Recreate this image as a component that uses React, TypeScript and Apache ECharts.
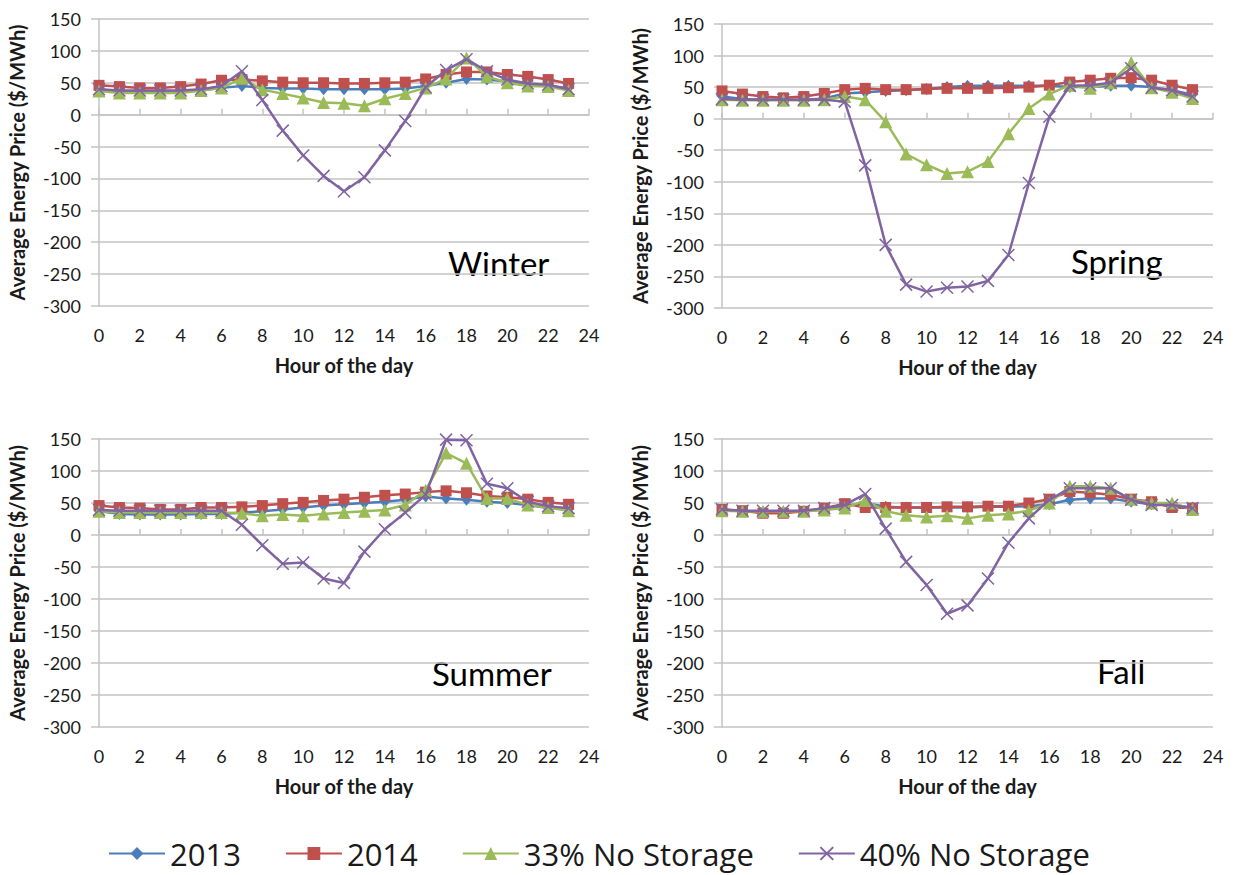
import React, { useEffect, useRef } from "react";
import * as echarts from "echarts";

// Hour of the day (x values)
const hours = [0, 1, 2, 3, 4, 5, 6, 7, 8, 9, 10, 11, 12, 13, 14, 15, 16, 17, 18, 19, 20, 21, 22, 23];

// Series names shown in the legend
const seriesNames = ["2013", "2014", "33% No Storage", "40% No Storage"];

// Average energy price ($/MWh) per season and scenario
const winter2013 = [40, 36, 35, 35, 36, 38, 42, 45, 42, 41, 41, 40, 40, 40, 40, 41, 45, 50, 56, 55, 52, 48, 45, 42];
const winter2014 = [46, 44, 42, 42, 44, 48, 54, 55, 53, 51, 50, 50, 49, 49, 50, 51, 56, 63, 67, 67, 63, 60, 55, 49];
const winter33 = [37, 34, 34, 34, 34, 38, 42, 57, 39, 33, 26, 19, 18, 14, 25, 33, 42, 56, 89, 60, 50, 45, 44, 38];
const winter40 = [40, 38, 38, 38, 38, 40, 45, 68, 23, -25, -64, -96, -120, -98, -56, -10, 43, 70, 87, 68, 55, 49, 47, 40];

const spring2013 = [35, 31, 30, 30, 30, 32, 40, 42, 44, 45, 47, 50, 52, 52, 52, 52, 52, 50, 50, 52, 52, 50, 45, 38];
const spring2014 = [44, 39, 35, 33, 35, 40, 46, 48, 46, 46, 47, 48, 48, 48, 49, 50, 53, 58, 61, 64, 65, 61, 53, 46];
const spring33 = [30, 29, 29, 29, 29, 30, 35, 30, -5, -56, -73, -87, -84, -68, -24, 16, 39, 53, 48, 57, 89, 49, 42, 32];
const spring40 = [31, 30, 30, 30, 30, 30, 27, -74, -200, -263, -274, -268, -266, -257, -216, -102, 3, 52, 53, 57, 80, 49, 45, 35];

const summer2013 = [37, 33, 32, 32, 32, 33, 33, 35, 37, 40, 43, 46, 48, 50, 52, 55, 60, 57, 55, 52, 50, 47, 42, 40];
const summer2014 = [46, 43, 42, 40, 40, 43, 43, 44, 46, 49, 51, 54, 56, 59, 62, 64, 67, 69, 66, 61, 59, 56, 51, 48];
const summer33 = [37, 35, 35, 35, 35, 35, 35, 34, 30, 32, 30, 33, 35, 37, 39, 47, 70, 128, 112, 57, 57, 47, 43, 38];
const summer40 = [39, 38, 38, 38, 38, 38, 38, 16, -16, -45, -43, -68, -75, -26, 9, 35, 63, 149, 148, 80, 73, 52, 45, 42];

const fall2013 = [40, 37, 36, 36, 37, 40, 45, 50, 44, 43, 43, 43, 43, 44, 44, 45, 48, 55, 57, 57, 52, 48, 47, 43];
const fall2014 = [40, 38, 34, 34, 37, 42, 49, 43, 43, 43, 43, 44, 44, 45, 45, 50, 56, 68, 66, 63, 56, 52, 43, 42];
const fall33 = [38, 37, 37, 37, 37, 39, 42, 54, 37, 31, 28, 30, 26, 31, 33, 38, 50, 76, 76, 73, 56, 50, 50, 40];
const fall40 = [40, 38, 38, 38, 38, 42, 47, 64, 10, -42, -78, -123, -110, -68, -12, 26, 55, 73, 73, 73, 55, 47, 47, 42];

// Axis ticks
const yMin = -300;
const yMax = 150;
const yStep = 50;
const xMin = 0;
const xMax = 24;
const xStep = 2;

const seasons = [
  { label: "Winter", data: [winter2013, winter2014, winter33, winter40] },
  { label: "Spring", data: [spring2013, spring2014, spring33, spring40] },
  { label: "Summer", data: [summer2013, summer2014, summer33, summer40] },
  { label: "Fall", data: [fall2013, fall2014, fall33, fall40] },
];

const FONT = "Lato";
const LEGEND_FONT = "Open Sans";
const GRID_COLOR = "#c3c3c3";
const TEXT_COLOR = "#1a1a1a";

const colors = ["#4a7ebb", "#c0504d", "#9bbb59", "#8064a2"];
const symbols = [
  "diamond",
  "rect",
  "triangle",
  "path://M0,0L10,10M10,0L0,10",
];
const symbolSizes: (number | number[])[] = [[10, 12], 11, 13, 12];

// Panel placement (pixels)
const panels = [
  { left: 99, top: 19, width: 490, height: 287, text: { x: 448, y: 266 } },
  { left: 722, top: 24, width: 491, height: 284, text: { x: 1071, y: 264 } },
  { left: 99, top: 439, width: 490, height: 288, text: { x: 432, y: 676 } },
  { left: 722, top: 439, width: 491, height: 288, text: { x: 1097, y: 674 } },
];

function buildOption() {
  const grid: any[] = [];
  const xAxis: any[] = [];
  const yAxis: any[] = [];
  const series: any[] = [];
  const graphic: any[] = [];

  panels.forEach((p, i) => {
    grid.push({ left: p.left, top: p.top, width: p.width, height: p.height, containLabel: false });

    // labelled axis along the bottom
    xAxis.push({
      type: "value",
      gridIndex: i,
      min: xMin,
      max: xMax,
      interval: xStep,
      position: "bottom",
      axisLine: { show: false, onZero: false },
      axisTick: { show: false },
      splitLine: { show: false },
      axisLabel: { fontFamily: FONT, fontSize: 18, color: TEXT_COLOR, margin: 20 },
      name: "Hour of the day",
      nameLocation: "middle",
      nameGap: 49,
      nameTextStyle: { fontFamily: FONT, fontSize: 20, fontWeight: "bold", color: TEXT_COLOR },
    });
    // axis line with tick marks crossing at zero
    xAxis.push({
      type: "value",
      gridIndex: i,
      min: xMin,
      max: xMax,
      interval: xStep,
      axisLine: { show: true, onZero: true, lineStyle: { color: GRID_COLOR, width: 1.5 } },
      axisTick: { show: true, length: 6, lineStyle: { color: GRID_COLOR, width: 1.5 } },
      axisLabel: { show: false },
      splitLine: { show: false },
    });

    yAxis.push({
      type: "value",
      gridIndex: i,
      min: yMin,
      max: yMax,
      interval: yStep,
      axisLine: { show: true, onZero: false, lineStyle: { color: GRID_COLOR, width: 1.5 } },
      axisTick: { show: true, length: 8, lineStyle: { color: GRID_COLOR, width: 1.5 } },
      splitLine: { show: true, lineStyle: { color: GRID_COLOR, width: 1.5 } },
      axisLabel: { fontFamily: FONT, fontSize: 18, color: TEXT_COLOR, margin: 18 },
      name: "Average Energy Price ($/MWh)",
      nameLocation: "middle",
      nameGap: 72,
      nameTextStyle: { fontFamily: FONT, fontSize: 20, fontWeight: "bold", color: TEXT_COLOR },
    });

    seasons[i].data.forEach((values, k) => {
      series.push({
        type: "line",
        name: seriesNames[k],
        xAxisIndex: i * 2,
        yAxisIndex: i,
        data: hours.map((h, j) => [h, values[j]]),
        symbol: symbols[k],
        symbolSize: symbolSizes[k],
        showAllSymbol: true,
        lineStyle: { color: colors[k], width: 2.5 },
        itemStyle:
          k === 3
            ? { color: colors[k], borderColor: colors[k], borderWidth: 1.5 }
            : { color: colors[k], borderWidth: 0 },
        emphasis: { disabled: true },
        z: 2 + k,
      });
    });

    graphic.push({
      type: "text",
      left: p.text.x,
      top: p.text.y - 20,
      style: {
        text: seasons[i].label,
        fontFamily: FONT,
        fontSize: 33,
        fill: "#000",
      },
    });
  });

  return {
    animation: false,
    backgroundColor: "#ffffff",
    grid,
    xAxis,
    yAxis,
    series,
    graphic,
    legend: {
      data: seriesNames,
      left: 108,
      top: 837,
      padding: 0,
      itemWidth: 56,
      itemHeight: 16,
      itemGap: 44,
      textStyle: { fontFamily: LEGEND_FONT, fontSize: 31, lineHeight: 33, color: TEXT_COLOR },
      selectedMode: false,
    },
  };
}

export default function App() {
  const ref = useRef<HTMLDivElement>(null);

  useEffect(() => {
    if (!ref.current) return;
    const chart = echarts.init(ref.current, undefined, { renderer: "svg" });
    chart.setOption(buildOption() as any);
    return () => chart.dispose();
  }, []);

  return (
    <div
      ref={ref}
      style={{ position: "absolute", left: 0, top: 0, width: 1233, height: 875, background: "#fff" }}
    />
  );
}
